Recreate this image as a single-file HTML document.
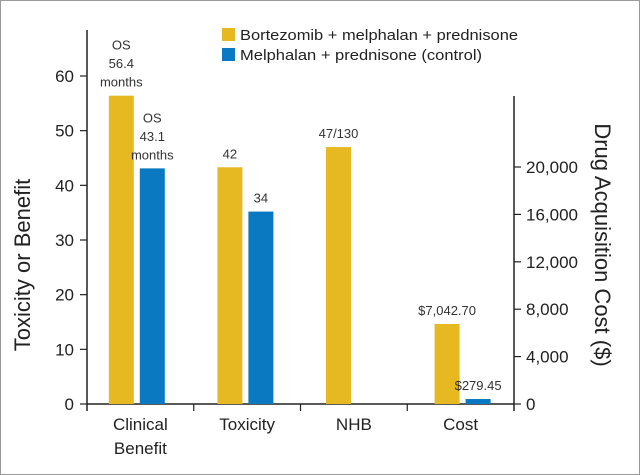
<!DOCTYPE html>
<html><head><meta charset="utf-8"><style>
html,body{margin:0;padding:0;background:#fff}
svg{display:block;font-family:"Liberation Sans",sans-serif}
</style></head><body>
<svg id="chart" width="640" height="475">
<rect x="0.5" y="0.5" width="639" height="474" fill="#fff" stroke="#999"/>
</svg>
<script>
const categories=["Clinical|Benefit","Toxicity","NHB","Cost"];
const bvmpValues=[56.4,43.3,47.0,null];
const mpValues=[43.1,35.2,null,null];
const costBvmp=6750;
const costMp=420;
const bvmpLabels=["OS|56.4|months","42","47/130","$7,042.70"];
const mpLabels=["OS|43.1|months","34","","$279.45"];
const leftTicks=[0,10,20,30,40,50,60];
const rightTicks=[0,4000,8000,12000,16000,20000];
const rightTickLabels=["0","4,000","8,000","12,000","16,000","20,000"];

const NS="http://www.w3.org/2000/svg";
const svg=document.getElementById('chart');
const X0=87,X1=514,Y0=404;
const yL=v=>Y0-v*(404-76)/60;
const yR=v=>Y0-v*(404-167)/20000;
const gW=(X1-X0)/4;
const gx=i=>X0+i*gW;
const barX=i=>108.8+i*108.6;
function el(t,a,txt){const e=document.createElementNS(NS,t);for(const k in a)e.setAttribute(k,a[k]);if(txt!=null)e.textContent=txt;svg.appendChild(e);return e;}
const Y="#e6b822",B="#0a79c1";

let e=el('line',{x1:X0,y1:Y0,x2:X1,y2:Y0,stroke:'#222','stroke-width':1.5});


e=el('line',{x1:X0,y1:30,x2:X0,y2:Y0+7,stroke:'#222','stroke-width':1.5});


e=el('line',{x1:X1,y1:96,x2:X1,y2:Y0+7,stroke:'#222','stroke-width':1.5});


for(let i=1;i<4;i++){e=el('line',{x1:gx(i),y1:Y0,x2:gx(i),y2:Y0+7,stroke:'#222','stroke-width':1.2});

}
leftTicks.forEach(v=>{
 e=el('line',{x1:X0-7,y1:yL(v),x2:X0,y2:yL(v),stroke:'#222','stroke-width':1.2});
 
 
 e=el('text',{x:X0-13,y:yL(v)+6,'text-anchor':'end','font-size':17,fill:'#222'},String(v));
 
 
});
rightTicks.forEach((v,i)=>{
 e=el('line',{x1:X1,y1:yR(v),x2:X1+7,y2:yR(v),stroke:'#222','stroke-width':1.2});
 
 
 e=el('text',{x:X1+12,y:yR(v)+6,'font-size':17,fill:'#222'},rightTickLabels[i]);
 
 
});
e=el('text',{x:0,y:0,'font-size':22,fill:'#222','text-anchor':'middle',transform:'translate(30,265) rotate(-90)'},'Toxicity or Benefit');


e=el('text',{x:0,y:0,'font-size':22,fill:'#222','text-anchor':'middle',transform:'translate(595,245) rotate(90)'},'Drug Acquisition Cost ($)');



function label(x,ytop,txt,name){
 const lines=txt.split('|');
 lines.forEach((l,k)=>{
  const t=el('text',{x:x,y:ytop-9-(lines.length-1-k)*18.5,'text-anchor':'middle','font-size':13,fill:'#333'},l);
  
  
 });
}
const BW=25;
categories.forEach((c,i)=>{
 const lines=c.split('|');
 lines.forEach((l,k)=>{
  const t=el('text',{x:gx(i)+gW/2,y:430+k*24,'text-anchor':'middle','font-size':17,fill:'#222'},l);
  
  
 });
 let yv=i===3?yR(costBvmp):(bvmpValues[i]!=null?yL(bvmpValues[i]):null);
 if(yv!=null){
  const r=el('rect',{x:barX(i),y:yv,width:BW,height:Y0-yv,fill:Y});
  
  
  label(barX(i)+BW/2,yv,bvmpLabels[i],'bvmp-value-label');
 }
 let yb=i===3?yR(costMp):(mpValues[i]!=null?yL(mpValues[i]):null);
 if(yb!=null){
  const r=el('rect',{x:barX(i)+31,y:yb,width:BW,height:Y0-yb,fill:B});
  
  
  label(barX(i)+31+BW/2,yb,mpLabels[i],'mp-value-label');
 }
});
e=el('rect',{x:222,y:28,width:13,height:13,fill:Y});


e=el('text',{x:240,y:40,'font-size':15,fill:'#222',textLength:278,lengthAdjust:'spacingAndGlyphs'},'Bortezomib + melphalan + prednisone');


e=el('rect',{x:222,y:48,width:13,height:13,fill:B});


e=el('text',{x:240,y:60,'font-size':15,fill:'#222',textLength:242,lengthAdjust:'spacingAndGlyphs'},'Melphalan + prednisone (control)');


</script>
</body></html>
